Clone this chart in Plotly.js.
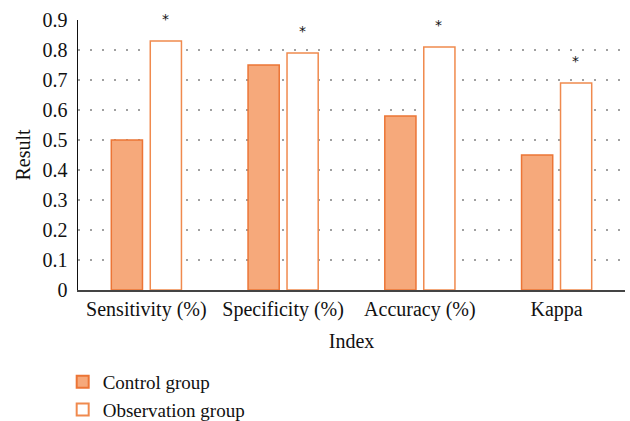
<!DOCTYPE html>
<html>
<head>
<meta charset="utf-8">
<script src="https://cdn.plot.ly/plotly-3.0.1.min.js"></script>
<style>html,body{margin:0;padding:0;background:#fff;}#chart{width:630px;height:421px;}</style>
</head>
<body>
<div id="chart"></div>
<script>
var categories = ['Sensitivity (%)', 'Specificity (%)', 'Accuracy (%)', 'Kappa'];
var controlValues = [0.50, 0.75, 0.58, 0.45];
var observationValues = [0.83, 0.79, 0.81, 0.69];
var significance = ['*', '*', '*', '*'];
var yTicks = [0, 0.1, 0.2, 0.3, 0.4, 0.5, 0.6, 0.7, 0.8, 0.9];
var yTickLabels = ['0', '0.1', '0.2', '0.3', '0.4', '0.5', '0.6', '0.7', '0.8', '0.9'];
var seriesNames = ['Control group', 'Observation group'];

var serif = 'Liberation Serif, Times New Roman, serif';
var fillColors = ['#F6A97B', '#FFFFFF'];
var lineColors = ['#EC7536', '#F08A4E'];

var traces = [
  {
    type: 'bar', name: seriesNames[0], x: categories, y: controlValues,
    marker: {color: fillColors[0], line: {color: lineColors[0], width: 1.5}},
    showlegend: false, hoverinfo: 'skip'
  },
  {
    type: 'bar', name: seriesNames[1], x: categories, y: observationValues,
    marker: {color: fillColors[1], line: {color: lineColors[1], width: 1.5}},
    showlegend: false, hoverinfo: 'skip'
  },
  {
    type: 'scatter', mode: 'markers', name: seriesNames[0], x: [null], y: [null],
    marker: {symbol: 'square', size: 8, color: fillColors[0], line: {color: lineColors[0], width: 1.5}},
    hoverinfo: 'skip'
  },
  {
    type: 'scatter', mode: 'markers', name: seriesNames[1], x: [null], y: [null],
    marker: {symbol: 'square', size: 8, color: fillColors[1], line: {color: lineColors[1], width: 1.5}},
    hoverinfo: 'skip'
  }
];

var annotations = categories.map(function (c, i) {
  return {
    xref: 'x', yref: 'y', x: c, y: observationValues[i], text: significance[i],
    showarrow: false, xanchor: 'center', yanchor: 'bottom', xshift: 19, yshift: 12,
    font: {family: 'DejaVu Sans, sans-serif', size: 14, color: '#111'}
  };
});

var layout = {
  width: 630, height: 421,
  margin: {l: 78, r: 5, t: 20, b: 131, autoexpand: false},
  paper_bgcolor: '#fff', plot_bgcolor: '#fff',
  barmode: 'group', bargap: 0.43, bargroupgap: 0.2,
  font: {family: serif, size: 20, color: '#111'},
  showlegend: true,
  legend: {x: -0.028, y: -0.27, xanchor: 'left', yanchor: 'top',
           orientation: 'v', font: {family: serif, size: 19, color: '#111'}, tracegroupgap: 0,
           itemsizing: 'constant', itemwidth: 30},
  annotations: annotations,
  xaxis: {
    type: 'category', range: [-0.5, 3.5],
    showline: true, linecolor: '#444', linewidth: 1.5,
    ticks: '', showgrid: false, zeroline: false, tickangle: 0,
    tickfont: {family: serif, size: 20, color: '#111'},
    title: {text: 'Index', font: {family: serif, size: 20, color: '#111'}, standoff: 14},
    automargin: false
  },
  yaxis: {
    range: [0, 0.9], tickvals: yTicks, ticktext: yTickLabels,
    showline: true, linecolor: '#111', linewidth: 1.5,
    ticks: '', zeroline: false,
    showgrid: true, gridcolor: '#A0A0A0', gridwidth: 1.5, griddash: '1.5px,10.5px',
    tickfont: {family: serif, size: 20, color: '#111'},
    ticklabelstandoff: 5,
    title: {text: 'Result', font: {family: serif, size: 20, color: '#111'}, standoff: 6},
    automargin: false
  }
};

Plotly.newPlot('chart', traces, layout, {displayModeBar: false, staticPlot: true});
</script>
</body>
</html>
